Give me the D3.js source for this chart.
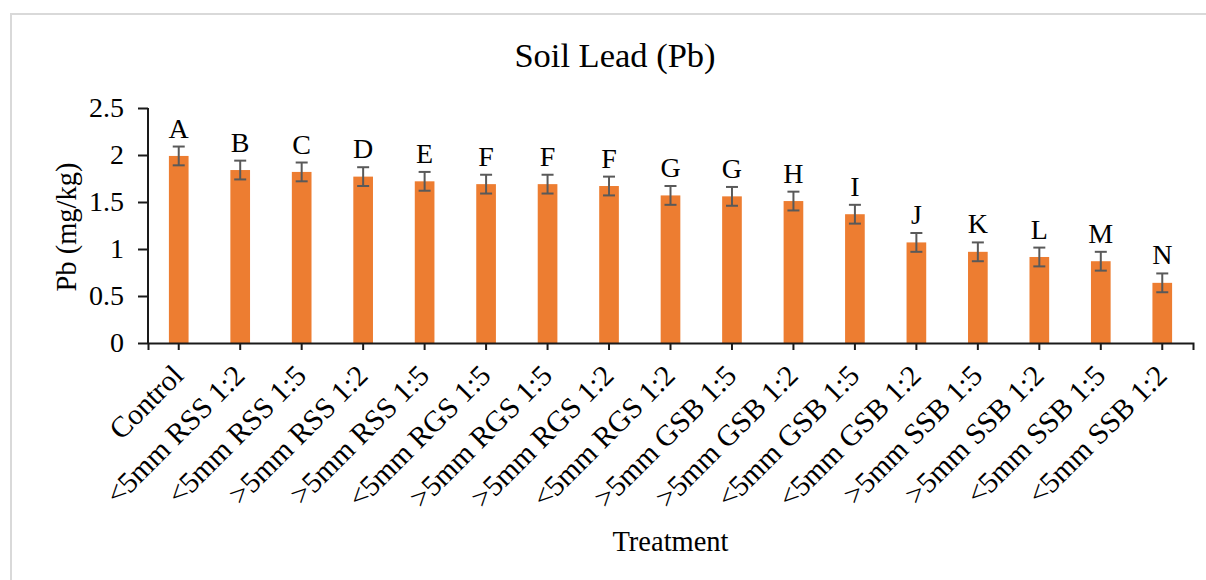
<!DOCTYPE html>
<html>
<head>
<meta charset="utf-8">
<script src="https://cdn.jsdelivr.net/npm/d3@7"></script>
<style>
  body { margin: 0; background: #fff; }
  text { font-family: "Liberation Serif", "Times New Roman", serif; fill: #000; }
</style>
</head>
<body>
<div id="chart"></div>
<script>
// treatments, mean Pb and the letter groups
var treatments = ["Control", "<5mm RSS 1:2", "<5mm RSS 1:5", ">5mm RSS 1:2", ">5mm RSS 1:5",
    "<5mm RGS 1:5", ">5mm RGS 1:5", ">5mm RGS 1:2", "<5mm RGS 1:2", ">5mm GSB 1:5",
    ">5mm GSB 1:2", "<5mm GSB 1:5", "<5mm GSB 1:2", ">5mm SSB 1:5", ">5mm SSB 1:2",
    "<5mm SSB 1:5", "<5mm SSB 1:2"];
var pbValues = [1.99, 1.84, 1.82, 1.77, 1.72, 1.69, 1.69, 1.67, 1.57, 1.56, 1.51, 1.37, 1.07, 0.97, 0.915, 0.87, 0.64];
var pbErrors = [0.1, 0.1, 0.1, 0.1, 0.1, 0.1, 0.1, 0.1, 0.1, 0.1, 0.1, 0.1, 0.1, 0.1, 0.1, 0.1, 0.1];
var groupLetters = ["A", "B", "C", "D", "E", "F", "F", "F", "G", "G", "H", "I", "J", "K", "L", "M", "N"];
var yTicks = [0, 0.5, 1, 1.5, 2, 2.5];

var width = 1206, height = 580;
var plot = {left: 148, right: 1193, top: 108, bottom: 343};

var svg = d3.select("#chart").append("svg")
    .attr("width", width)
    .attr("height", height);

// chart area border
svg.append("rect")
    .attr("x", 11).attr("y", 14)
    .attr("width", 1240).attr("height", 620)
    .attr("fill", "none")
    .attr("stroke", "#d9d9d9")
    .attr("stroke-width", 2);

var x = d3.scaleBand()
    .domain(treatments)
    .range([plot.left, plot.right])
    .paddingInner(0.68)
    .paddingOuter(0.34);

var y = d3.scaleLinear()
    .domain([0, 2.5])
    .range([plot.bottom, plot.top]);

// bars
svg.append("g").selectAll("rect")
    .data(treatments)
    .join("rect")
    .attr("x", function(d) { return x(d); })
    .attr("y", function(d, i) { return y(pbValues[i]); })
    .attr("width", x.bandwidth())
    .attr("height", function(d, i) { return y(0) - y(pbValues[i]); })
    .attr("fill", "#ed7d31");

// error bars
var errG = svg.append("g")
    .attr("stroke", "#595959")
    .attr("stroke-width", 2);
treatments.forEach(function(t, i) {
    var cx = x(t) + x.bandwidth() / 2;
    var hi = y(pbValues[i] + pbErrors[i]);
    var lo = y(pbValues[i] - pbErrors[i]);
    errG.append("line").attr("x1", cx).attr("x2", cx).attr("y1", hi).attr("y2", lo);
    errG.append("line").attr("x1", cx - 6).attr("x2", cx + 6).attr("y1", hi).attr("y2", hi);
    errG.append("line").attr("x1", cx - 6).attr("x2", cx + 6).attr("y1", lo).attr("y2", lo);
});

// significance letters
svg.append("g").selectAll("text")
    .data(treatments)
    .join("text")
    .attr("x", function(d) { return x(d) + x.bandwidth() / 2; })
    .attr("y", function(d, i) { return y(pbValues[i] + pbErrors[i]) - 9; })
    .attr("text-anchor", "middle")
    .style("font-size", "28px")
    .text(function(d, i) { return groupLetters[i]; });

// y axis
var yAxis = svg.append("g")
    .attr("transform", "translate(" + plot.left + ",0)")
    .call(d3.axisLeft(y).tickValues(yTicks).tickSize(10).tickPadding(14)
        .tickFormat(function(d) { return String(d); }));
yAxis.select(".domain").attr("stroke", "#1a1a1a").attr("stroke-width", 2)
    .attr("d", "M0," + plot.top + "V" + plot.bottom);
yAxis.selectAll(".tick line").attr("stroke", "#1a1a1a").attr("stroke-width", 2);
yAxis.selectAll(".tick text").style("font-size", "28px")
    .style("font-family", "'Liberation Serif', serif").attr("fill", "#000");

// x axis
var xAxis = svg.append("g")
    .attr("transform", "translate(0," + plot.bottom + ")")
    .call(d3.axisBottom(x).tickSize(7).tickSizeOuter(7).tickFormat(""));
xAxis.select(".domain").attr("stroke", "#1a1a1a").attr("stroke-width", 2);
xAxis.selectAll(".tick line").attr("stroke", "#1a1a1a").attr("stroke-width", 2);

// rotated category labels
svg.append("g").selectAll("text")
    .data(treatments)
    .join("text")
    .attr("transform", function(d) {
        return "translate(" + (x(d) + x.bandwidth() / 2 - 1) + "," + (plot.bottom + 27) + ") rotate(-45)";
    })
    .attr("text-anchor", "end")
    .attr("dy", "0.35em")
    .style("font-size", "29.5px")
    .text(function(d) { return d; });

// titles
svg.append("text")
    .attr("x", 615).attr("y", 67)
    .attr("text-anchor", "middle")
    .style("font-size", "34.5px")
    .text("Soil Lead (Pb)");

svg.append("text")
    .attr("x", (plot.left + plot.right) / 2).attr("y", 551)
    .attr("text-anchor", "middle")
    .style("font-size", "28.5px")
    .text("Treatment");

svg.append("text")
    .attr("transform", "translate(76,227) rotate(-90)")
    .attr("text-anchor", "middle")
    .style("font-size", "28.5px")
    .text("Pb (mg/kg)");
</script>
</body>
</html>
